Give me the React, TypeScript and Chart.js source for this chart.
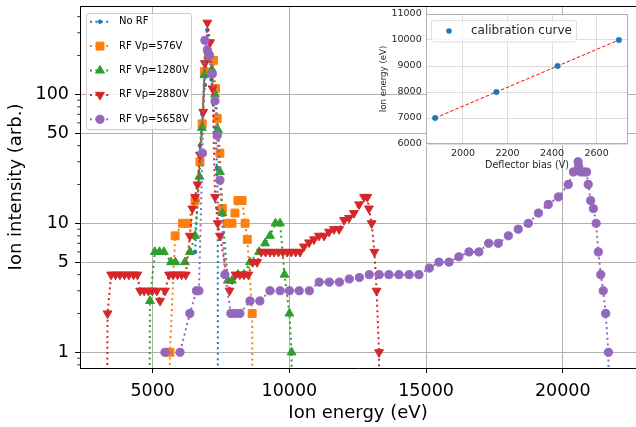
import React, { useEffect, useRef } from 'react';
import { Chart, registerables } from 'chart.js';

Chart.register(...registerables);

const FONT = '"DejaVu Sans", sans-serif';

// ---------------- data ----------------
const noRfE = [6550, 6640, 6730, 6820, 6910, 7000, 7080, 7150, 7220, 7300, 7350, 7380, 7400];
const noRfI = [6, 15, 40, 70, 118, 315, 210, 130, 85, 55, 27, 13, 0];

const rf576E = [5490, 5630, 5820, 6090, 6270, 6550, 6730, 6810, 6890, 7040, 7220, 7300, 7360, 7460, 7550, 7720, 7900, 8010, 8120, 8270, 8380, 8460, 8640, 8700];
const rf576I = [0, 1, 8, 10, 10, 15, 30, 59, 150, 200, 183, 111, 65, 35, 13, 10, 10, 12, 15, 15, 10, 7.5, 2, 0];

const rf1280E = [4760, 4900, 5080, 5250, 5410, 5670, 5830, 6180, 6360, 6550, 6710, 6800, 6890, 7040, 7170, 7280, 7390, 7460, 7550, 7750, 7900, 8120, 8340, 8560, 8890, 9110, 9290, 9490, 9660, 9820, 10000, 10080, 10170];
const rf1280I = [0, 2.5, 6, 6, 6, 5, 5, 5, 6, 8, 23, 55, 141, 200, 155, 100, 53, 25, 12, 3.6, 3.6, 4, 4, 5, 6, 7, 8, 10, 10, 4, 2, 1, 0];

const rf2880E = [3180, 3350, 3480, 3640, 3800, 3970, 4130, 4300, 4440, 4540, 4690, 4840, 4990, 5150, 5270, 5450, 5600, 5750, 5910, 6060, 6210, 6360, 6450, 6550, 6640, 6730, 6850, 6910, 7000, 7100, 7190, 7280, 7380, 7460, 7810, 8030, 8190, 8340, 8500, 8660, 8820, 8970, 9130, 9290, 9440, 9600, 9760, 9920, 10070, 10230, 10390, 10530, 10720, 10900, 11080, 11270, 11450, 11630, 11820, 12000, 12180, 12360, 12550, 12730, 12850, 12910, 13010, 13110, 13190, 13280, 13350];
const rf2880I = [0, 2, 4, 4, 4, 4, 4, 4, 4, 3, 3, 3, 3, 3, 2.5, 3, 4, 4, 4, 4, 4, 8, 13, 16, 20, 34, 73, 174, 359, 253, 111, 16, 10, 8, 3, 4, 4, 4, 4, 5, 5, 6, 6, 6, 6, 6, 6, 6, 6, 6, 6, 6.6, 7.1, 7.5, 8, 8, 8.6, 9, 9, 10.6, 11, 12, 14, 16, 16, 13, 10, 6, 3, 1, 0];

const rf5658E = [5450, 6000, 6360, 6600, 6690, 6820, 6910, 7000, 7080, 7180, 7280, 7360, 7460, 7640, 7860, 8030, 8190, 8560, 8920, 9290, 9660, 10000, 10360, 10730, 11090, 11460, 11830, 12190, 12560, 12920, 13280, 13640, 14010, 14380, 14740, 15120, 15470, 15840, 16200, 16570, 16930, 17290, 17640, 18010, 18370, 18740, 19110, 19470, 19840, 20200, 20390, 20560, 20580, 20650, 20760, 20870, 20930, 21020, 21120, 21220, 21300, 21390, 21480, 21570, 21670, 21770];
const rf5658I = [1, 1, 2, 3, 3, 35, 262, 220, 200, 144, 89, 48, 21.6, 4, 2, 2, 2, 2.5, 2.5, 3, 3, 3, 3, 3, 3.5, 3.5, 3.5, 3.7, 3.8, 4, 4, 4, 4, 4, 4, 4.5, 5, 5, 5.5, 6, 6, 7, 7, 8, 9, 10, 12, 14, 16, 20, 25, 30, 27.5, 25, 25, 25, 20, 15, 13, 10, 6, 4, 3, 2, 1, 0];

const xTicks = [5000, 10000, 15000, 20000];
const yTicks = [1, 5, 10, 50, 100];
const yMinorTicks = [0.8, 0.9, 2, 3, 4, 6, 7, 8, 9, 20, 30, 40, 60, 70, 80, 90, 200, 300, 400];

// inset: calibration
const biasV = [1875, 2150, 2425, 2700];
const calEnergy = [7000, 8000, 9000, 10000];
const insetXTicks = [2000, 2200, 2400, 2600];
const insetYTicks = [6000, 7000, 8000, 9000, 10000, 11000];

// ---------------- styles ----------------
type Marker = 'point' | 'circle' | 'square' | 'up' | 'down';
const SERIES: { label: string; e: number[]; i: number[]; color: string; marker: Marker; order: number }[] = [
  { label: 'No RF', e: noRfE, i: noRfI, color: '#1f77b4', marker: 'point', order: 5 },
  { label: 'RF Vp=576V', e: rf576E, i: rf576I, color: '#ff7f0e', marker: 'square', order: 4 },
  { label: 'RF Vp=1280V', e: rf1280E, i: rf1280I, color: '#2ca02c', marker: 'up', order: 3 },
  { label: 'RF Vp=2880V', e: rf2880E, i: rf2880I, color: '#d62728', marker: 'down', order: 2 },
  { label: 'RF Vp=5658V', e: rf5658E, i: rf5658I, color: '#9467bd', marker: 'circle', order: 1 },
];

const markerStyle: Record<Marker, { style: string; r: number; rot: number }> = {
  point: { style: 'circle', r: 1.8, rot: 0 },
  circle: { style: 'circle', r: 4.1, rot: 0 },
  square: { style: 'rect', r: 5.6, rot: 0 },
  up: { style: 'triangle', r: 5.1, rot: 0 },
  down: { style: 'triangle', r: 5.1, rot: 180 },
};

const DOT: number[] = [2, 3.4];

function drawMarker(ctx: CanvasRenderingContext2D, m: Marker, x: number, y: number, color: string) {
  const ms = markerStyle[m];
  const r = ms.r;
  ctx.save();
  ctx.setLineDash([]);
  ctx.fillStyle = color;
  ctx.strokeStyle = color;
  ctx.lineWidth = 1;
  ctx.beginPath();
  if (ms.style === 'circle') {
    ctx.arc(x, y, r, 0, Math.PI * 2);
  } else if (ms.style === 'rect') {
    const h = r * Math.SQRT1_2;
    ctx.rect(x - h, y - h, 2 * h, 2 * h);
  } else {
    const rad0 = (ms.rot * Math.PI) / 180;
    for (let k = 0; k < 3; k++) {
      const rad = rad0 + (k * 2 * Math.PI) / 3;
      const px = x + Math.sin(rad) * r;
      const py = y - Math.cos(rad) * r;
      if (k === 0) ctx.moveTo(px, py);
      else ctx.lineTo(px, py);
    }
    ctx.closePath();
  }
  ctx.fill();
  ctx.stroke();
  ctx.restore();
}

function roundRect(ctx: CanvasRenderingContext2D, x: number, y: number, w: number, h: number, r: number) {
  ctx.beginPath();
  ctx.moveTo(x + r, y);
  ctx.lineTo(x + w - r, y);
  ctx.arcTo(x + w, y, x + w, y + r, r);
  ctx.lineTo(x + w, y + h - r);
  ctx.arcTo(x + w, y + h, x + w - r, y + h, r);
  ctx.lineTo(x + r, y + h);
  ctx.arcTo(x, y + h, x, y + h - r, r);
  ctx.lineTo(x, y + r);
  ctx.arcTo(x, y, x + r, y, r);
  ctx.closePath();
}

// ---------------- plugins ----------------
const mainDecor = {
  id: 'mainDecor',
  afterDraw(chart: any) {
    const { ctx, chartArea: a } = chart;
    const ys = chart.scales.y;
    ctx.save();
    // top spine
    ctx.strokeStyle = '#000';
    ctx.lineWidth = 1;
    ctx.beginPath();
    ctx.moveTo(a.left, Math.round(a.top) + 0.5);
    ctx.lineTo(a.right, Math.round(a.top) + 0.5);
    ctx.stroke();
    // minor ticks on log axis
    ctx.lineWidth = 0.8;
    yMinorTicks.forEach((v) => {
      const py = ys.getPixelForValue(v);
      if (py < a.top || py > a.bottom) return;
      ctx.beginPath();
      ctx.moveTo(a.left, py);
      ctx.lineTo(a.left - 2.8, py);
      ctx.stroke();
    });
    // legend
    roundRect(ctx, 86.5, 13.5, 105, 116, 2.5);
    ctx.fillStyle = 'rgba(255,255,255,0.8)';
    ctx.fill();
    ctx.strokeStyle = '#cccccc';
    ctx.lineWidth = 1;
    ctx.stroke();
    ctx.font = `10px ${FONT}`;
    ctx.textBaseline = 'middle';
    ctx.textAlign = 'left';
    SERIES.forEach((s, k) => {
      const y = 21.7 + k * 24.4;
      ctx.setLineDash(DOT);
      ctx.lineWidth = 2;
      ctx.strokeStyle = s.color;
      ctx.beginPath();
      ctx.moveTo(90, y);
      ctx.lineTo(110, y);
      ctx.stroke();
      ctx.setLineDash([]);
      drawMarker(ctx, s.marker, 100, y, s.color);
      ctx.fillStyle = '#000';
      ctx.fillText(s.label, 119, y);
    });
    ctx.restore();
  },
};

const insetDecor = {
  id: 'insetDecor',
  beforeDraw(chart: any) {
    const { ctx, chartArea: a } = chart;
    ctx.save();
    ctx.fillStyle = '#ffffff';
    ctx.fillRect(a.left, a.top, a.right - a.left, a.bottom - a.top);
    ctx.restore();
  },
  afterDraw(chart: any) {
    const { ctx, chartArea: a } = chart;
    ctx.save();
    ctx.strokeStyle = '#b0b0b0';
    ctx.lineWidth = 1;
    ctx.strokeRect(Math.round(a.left) + 0.5, Math.round(a.top) + 0.5, Math.round(a.right - a.left) - 1, Math.round(a.bottom - a.top) - 1);
    // legend
    roundRect(ctx, 61.5, 20.5, 145, 21.5, 2.5);
    ctx.fillStyle = 'rgba(255,255,255,0.8)';
    ctx.fill();
    ctx.strokeStyle = '#dddddd';
    ctx.stroke();
    ctx.fillStyle = '#1f77b4';
    ctx.beginPath();
    ctx.arc(79, 31, 2.8, 0, Math.PI * 2);
    ctx.fill();
    ctx.fillStyle = '#262626';
    ctx.font = `12px ${FONT}`;
    ctx.textBaseline = 'middle';
    ctx.textAlign = 'left';
    ctx.fillText('calibration curve', 101, 31);
    ctx.restore();
  },
};

// ---------------- configs ----------------
function mainConfig(): any {
  const datasets = SERIES.map((s) => {
    const ms = markerStyle[s.marker];
    return {
      label: s.label,
      data: s.e.map((x, k) => ({ x, y: s.i[k] > 0 ? s.i[k] : 1e-6 })),
      borderColor: s.color,
      backgroundColor: s.color,
      borderWidth: 2,
      borderDash: DOT,
      borderCapStyle: 'butt',
      pointStyle: ms.style,
      pointRadius: ms.r,
      pointRotation: ms.rot,
      pointBorderWidth: 1,
      pointBorderColor: s.color,
      pointBackgroundColor: s.color,
      fill: false,
      tension: 0,
      clip: 0,
      order: s.order,
    };
  });
  return {
    type: 'line',
    data: { datasets },
    options: {
      animation: false,
      responsive: false,
      devicePixelRatio: 1,
      events: [],
      layout: { autoPadding: false, padding: { top: 6, right: 0, bottom: 0, left: 0 } },
      plugins: { legend: { display: false }, tooltip: { enabled: false } },
      scales: {
        x: {
          type: 'linear',
          min: 2341,
          max: 22679,
          afterBuildTicks: (s: any) => {
            s.ticks = xTicks.map((v) => ({ value: v }));
          },
          afterFit: (s: any) => {
            s.height = 59;
            s.paddingLeft = 0;
            s.paddingRight = 0;
          },
          ticks: {
            callback: (v: any) => String(v),
            font: { family: FONT, size: 17.5 },
            color: '#000',
            padding: 7.5,
            maxRotation: 0,
            autoSkip: false,
          },
          grid: { color: '#b0b0b0', lineWidth: 1, drawTicks: true, tickLength: 5, tickColor: '#000', tickWidth: 1 },
          border: { display: true, color: '#000', width: 1 },
          title: { display: true, text: 'Ion energy (eV)', font: { family: FONT, size: 18 }, color: '#000', padding: { top: 0, bottom: 3 } },
        },
        y: {
          type: 'logarithmic',
          min: 0.7556,
          max: 483.6,
          afterBuildTicks: (s: any) => {
            s.ticks = yTicks.map((v) => ({ value: v }));
          },
          afterFit: (s: any) => {
            s.width = 80;
            s.paddingTop = 0;
            s.paddingBottom = 0;
          },
          ticks: {
            callback: (v: any) => String(v),
            font: { family: FONT, size: 17.5 },
            color: '#000',
            padding: 6,
            autoSkip: false,
          },
          grid: { color: '#b0b0b0', lineWidth: 1, drawTicks: true, tickLength: 5, tickColor: '#000', tickWidth: 1 },
          border: { display: true, color: '#000', width: 1 },
          title: { display: true, text: 'Ion intensity (arb.)', font: { family: FONT, size: 18 }, color: '#000', padding: { top: 6, bottom: 0 } },
        },
      },
    },
    plugins: [mainDecor],
  };
}

function insetConfig(): any {
  const pts = biasV.map((x, k) => ({ x, y: calEnergy[k] }));
  return {
    type: 'line',
    data: {
      datasets: [
        {
          label: 'calibration curve',
          data: pts,
          showLine: false,
          pointStyle: 'circle',
          pointRadius: 2.8,
          pointBorderWidth: 0.5,
          pointBackgroundColor: '#1f77b4',
          pointBorderColor: '#1f77b4',
          order: 0,
        },
        {
          label: 'fit',
          data: pts,
          borderColor: '#ff0000',
          borderWidth: 1,
          borderDash: [3.5, 2],
          pointRadius: 0,
          fill: false,
          tension: 0,
          order: 1,
        },
      ],
    },
    options: {
      animation: false,
      responsive: false,
      devicePixelRatio: 1,
      events: [],
      layout: { autoPadding: false, padding: { top: 14, right: 8, bottom: 0, left: 0 } },
      plugins: { legend: { display: false }, tooltip: { enabled: false } },
      scales: {
        x: {
          type: 'linear',
          min: 1834,
          max: 2741,
          afterBuildTicks: (s: any) => {
            s.ticks = insetXTicks.map((v) => ({ value: v }));
          },
          afterFit: (s: any) => {
            s.height = 36;
            s.paddingLeft = 0;
            s.paddingRight = 0;
          },
          ticks: { callback: (v: any) => String(v), font: { family: FONT, size: 9.5 }, color: '#262626', padding: 4.3, maxRotation: 0, autoSkip: false },
          grid: { color: '#dddddd', lineWidth: 1, drawTicks: false },
          border: { display: false },
          title: { display: true, text: 'Deflector bias (V)', font: { family: FONT, size: 9.6 }, color: '#262626', padding: { top: 0, bottom: 9.2 } },
        },
        y: {
          type: 'linear',
          min: 6000,
          max: 11000,
          afterBuildTicks: (s: any) => {
            s.ticks = insetYTicks.map((v) => ({ value: v }));
          },
          afterFit: (s: any) => {
            s.width = 56;
            s.paddingTop = 0;
            s.paddingBottom = 0;
          },
          ticks: { callback: (v: any) => String(v), font: { family: FONT, size: 9.5 }, color: '#262626', padding: 4.3, autoSkip: false },
          grid: { color: '#dddddd', lineWidth: 1, drawTicks: false },
          border: { display: false },
          title: { display: true, text: 'Ion energy (eV)', font: { family: FONT, size: 8.6 }, color: '#262626', padding: { top: 8.8, bottom: 0 } },
        },
      },
    },
    plugins: [insetDecor],
  };
}

export default function App() {
  const mainRef = useRef<HTMLCanvasElement>(null);
  const insetRef = useRef<HTMLCanvasElement>(null);
  useEffect(() => {
    const main = new Chart(mainRef.current as HTMLCanvasElement, mainConfig());
    const inset = new Chart(insetRef.current as HTMLCanvasElement, insetConfig());
    return () => {
      main.destroy();
      inset.destroy();
    };
  }, []);
  return (
    <div style={{ position: 'fixed', left: 0, top: 0, width: 636, height: 427, background: '#ffffff', overflow: 'hidden' }}>
      <canvas ref={mainRef} width={636} height={427} style={{ position: 'absolute', left: 0, top: 0 }} />
      <canvas ref={insetRef} width={266} height={180} style={{ position: 'absolute', left: 370, top: 0 }} />
    </div>
  );
}
